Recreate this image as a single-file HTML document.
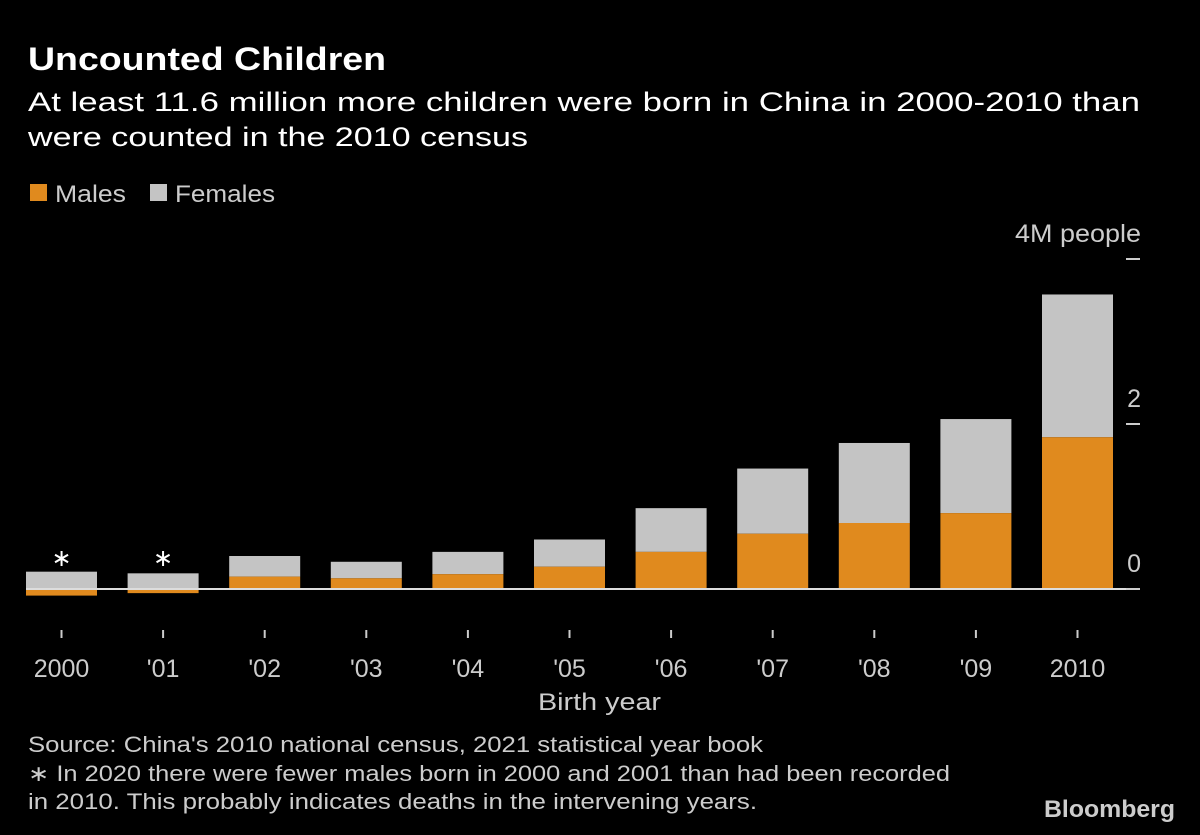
<!DOCTYPE html>
<html><head><meta charset="utf-8"><style>
body{margin:0;background:#000;width:1200px;height:835px;overflow:hidden;font-family:"Liberation Sans",sans-serif;color:#fff}
svg{position:absolute;left:0;top:0}
</style></head><body>
<svg width="1200" height="835">
<text x="28" y="70" font-size="32" font-weight="bold" fill="#fff" textLength="358" lengthAdjust="spacingAndGlyphs">Uncounted Children</text>
<text x="28" y="111" font-size="27" fill="#fff" textLength="1112" lengthAdjust="spacingAndGlyphs">At least 11.6 million more children were born in China in 2000-2010 than</text>
<text x="28" y="146" font-size="27" fill="#fff" textLength="500" lengthAdjust="spacingAndGlyphs">were counted in the 2010 census</text>
<g>
<rect x="30" y="184" width="17" height="17" fill="#e08a1e"/>
<text x="55" y="202" font-size="24" fill="#ccc" textLength="71" lengthAdjust="spacingAndGlyphs">Males</text>
<rect x="150" y="184" width="17" height="17" fill="#c4c4c4"/>
<text x="175" y="202" font-size="24" fill="#ccc" textLength="100" lengthAdjust="spacingAndGlyphs">Females</text>
</g>
<g id="plot"></g>
<text x="538" y="710" font-size="24" fill="#ccc" textLength="123" lengthAdjust="spacingAndGlyphs">Birth year</text>
<text x="28" y="752" font-size="22" fill="#ccc" textLength="735" lengthAdjust="spacingAndGlyphs">Source: China's 2010 national census, 2021 statistical year book</text>
<text x="28" y="781" font-size="22" fill="#ccc" textLength="922" lengthAdjust="spacingAndGlyphs">∗ In 2020 there were fewer males born in 2000 and 2001 than had been recorded</text>
<text x="28" y="809" font-size="22" fill="#ccc" textLength="729" lengthAdjust="spacingAndGlyphs">in 2010. This probably indicates deaths in the intervening years.</text>
<text x="1044" y="817" font-size="24" font-weight="bold" fill="#ccc" textLength="131" lengthAdjust="spacingAndGlyphs">Bloomberg</text>
</svg>
<script>
const categories=["2000","'01","'02","'03","'04","'05","'06","'07","'08","'09","2010"];
const males=[-0.08,-0.05,0.15,0.13,0.18,0.27,0.45,0.67,0.80,0.92,1.84];
const females=[0.21,0.19,0.25,0.20,0.27,0.33,0.53,0.79,0.97,1.14,1.73];
const yTicks=[0,2,4];
const yTickLabels=["0","2","4M people"];
const asterisk=[true,true,false,false,false,false,false,false,false,false,false];
const NS="http://www.w3.org/2000/svg";
const g=document.getElementById('plot');
const y=v=>589-v*82.5;
const x=i=>26+i*101.6;
const bw=71;
function mk(t,a){const e=document.createElementNS(NS,t);for(const k in a)e.setAttribute(k,a[k]);g.appendChild(e);return e;}
categories.forEach((c,i)=>{
  const m=males[i],f=females[i];
  const base=Math.max(m,0);
  let r=mk('rect',{x:x(i),y:y(base+f),width:bw,height:y(base)-y(base+f),fill:'#c4c4c4'});
  
  
  r=mk('rect',{x:x(i),y:Math.min(y(m),y(0)),width:bw,height:Math.abs(y(m)-y(0)),fill:'#e08a1e'});
  
  
  let t=mk('line',{x1:x(i)+bw/2,x2:x(i)+bw/2,y1:630,y2:638,stroke:'#ccc','stroke-width':2});
  
  
  t=mk('text',{x:x(i)+bw/2,y:677,'font-size':25,fill:'#ccc','text-anchor':'middle'});t.textContent=c;
  
  
  if(asterisk[i]){t=mk('text',{x:x(i)+bw/2,y:566,'font-size':24,fill:'#fff','text-anchor':'middle'});t.textContent='∗';
  
  }
});
let z=mk('line',{x1:26,x2:1140,y1:y(0),y2:y(0),stroke:'#ddd','stroke-width':2});


yTicks.forEach((v,i)=>{
  let l=mk('line',{x1:1126,x2:1140,y1:y(v),y2:y(v),stroke:'#ccc','stroke-width':2});
  
  
  let t=mk('text',{x:1141,y:y(v)-17,'font-size':25,fill:'#ccc','text-anchor':'end'});t.textContent=yTickLabels[i];
  if(i==2){t.setAttribute('textLength','126');t.setAttribute('lengthAdjust','spacingAndGlyphs');}
  
  
});
</script>
</body></html>
